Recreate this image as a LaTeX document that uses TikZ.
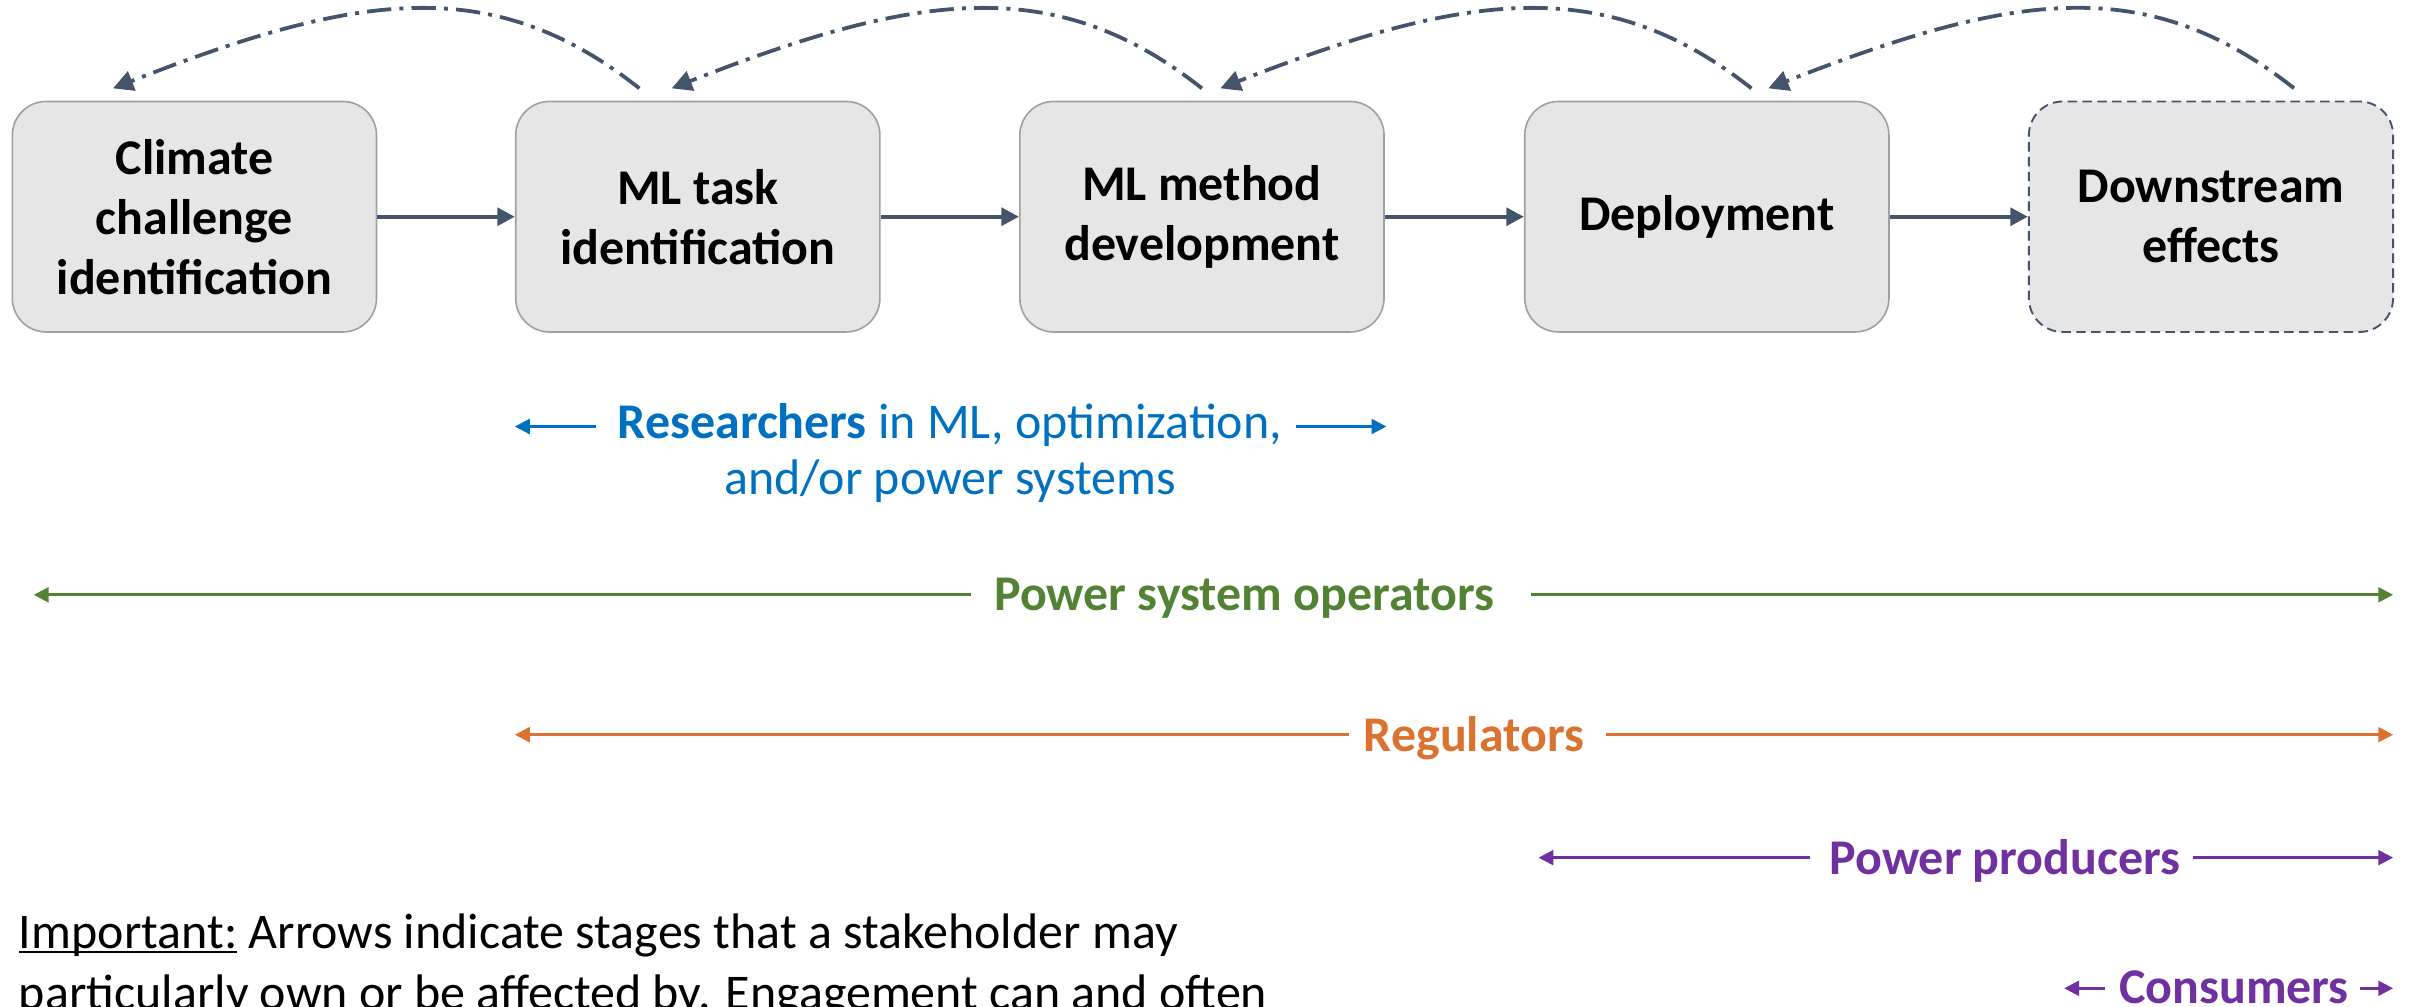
\documentclass[tikz,border=0pt]{standalone}
\usepackage{fontspec}
\setmainfont{Carlito}
\usetikzlibrary{arrows.meta,calc}
\definecolor{slate}{HTML}{44546A}
\definecolor{boxfill}{HTML}{E6E6E6}
\definecolor{boxline}{HTML}{A0A0A0}
\definecolor{rblue}{HTML}{0070C0}
\definecolor{rgreen}{HTML}{548235}
\definecolor{rorange}{HTML}{DC7230}
\definecolor{rpurple}{HTML}{7030A0}
\newsavebox\myulbox
\newcommand\myuline[1]{\sbox\myulbox{#1}\rlap{\usebox\myulbox}\rule[-1.6pt]{\wd\myulbox}{0.7pt}}
\begin{document}
\begin{tikzpicture}[x=0.02cm,y=-0.02cm,
  stage/.style={draw=boxline, line width=0.6pt, fill=boxfill, rounded corners=0.44cm,
    minimum width=4.74cm, minimum height=3cm, align=center, inner sep=0pt,
    font=\fontsize{18.5}{22.2}\selectfont\bfseries},
  flow/.style={draw=slate, line width=1.5pt, -{Triangle[length=6.5pt,width=6.5pt]}},
  back/.style={draw=slate, line width=1.4pt, dash pattern=on 9pt off 3pt on 1.5pt off 3pt,
    -{Triangle[length=7.5pt,width=7.5pt]}},
  lbl/.style={inner sep=0pt, anchor=base, font=\fontsize{18.5}{22}\selectfont},
  sarrow/.style={line width=1pt, -{Triangle[length=5.5pt,width=5.5pt]}}
]
\useasboundingbox (0,0) rectangle (1568,655);
\clip (0,0) rectangle (1568,655);

% stages
\node[stage] (s1) at (126.5,141) {Climate\\challenge\\identification};
\node[stage] (s2) at (454,141) {ML task\\identification};
\node[stage] (s3) at (782,141) {ML method\\development};
\node[stage] (s4) at (1110.5,141) {Deployment};
\node[stage, draw=slate, dash pattern=on 3.5pt off 2pt, line width=0.7pt] (s5) at (1438.5,141) {Downstream\\effects};

% forward flow
\draw[flow] (s1) -- (s2);
\draw[flow] (s2) -- (s3);
\draw[flow] (s3) -- (s4);
\draw[flow] (s4) -- (s5);

% feedback curves
\coordinate (b1s) at ($(s2.north)+(-38,-8)$);
\coordinate (b1e) at ($(s1.north)+(-53,-8)$);
\coordinate (b2s) at ($(s3.north)+(0,-8)$);
\coordinate (b2e) at ($(s2.north)+(-17,-8)$);
\coordinate (b3s) at ($(s4.north)+(29,-8)$);
\coordinate (b3e) at ($(s3.north)+(12,-8)$);
\coordinate (b4s) at ($(s5.north)+(54,-8)$);
\coordinate (b4e) at ($(s4.north)+(40,-8)$);
\foreach \a/\b in {b1s/b1e,b2s/b2e,b3s/b3e,b4s/b4e}
  \draw[back] (\a) .. controls +(-95,-75) and +(160,-63) .. (\b);

% researchers
\node[lbl, text=rblue] (res1) at (618,285) {\textbf{Researchers} in ML, optimization,};
\node[lbl, text=rblue] (res2) at (618,322) {and/or power systems};
\coordinate (resL) at (335,277.5);
\coordinate (resR) at (902,277.5);
\draw[sarrow, draw=rblue, fill=rblue] ($(res1.west |- resL)+(-14,0)$) -- (resL);
\draw[sarrow, draw=rblue, fill=rblue] ($(res1.east |- resR)+(9,0)$) -- (resR);

% power system operators
\node[lbl, text=rgreen, font=\fontsize{18.5}{22}\selectfont\bfseries] (pso) at (809.5,397.5) {Power system operators};
\coordinate (psoL) at (22,387);
\coordinate (psoR) at (1557,387);
\draw[sarrow, draw=rgreen, fill=rgreen] ($(pso.west |- psoL)+(-15,0)$) -- (psoL);
\draw[sarrow, draw=rgreen, fill=rgreen] ($(pso.east |- psoR)+(24,0)$) -- (psoR);

% regulators
\node[lbl, text=rorange, font=\fontsize{18.5}{22}\selectfont\bfseries] (reg) at (959,489) {Regulators};
\coordinate (regL) at (335,478);
\coordinate (regR) at (1557,478);
\draw[sarrow, draw=rorange, fill=rorange] ($(reg.west |- regL)+(-9,0)$) -- (regL);
\draw[sarrow, draw=rorange, fill=rorange] ($(reg.east |- regR)+(14,0)$) -- (regR);

% power producers
\node[lbl, text=rpurple, font=\fontsize{18.5}{22}\selectfont\bfseries] (pp) at (1304.5,569) {Power producers};
\coordinate (ppL) at (1001,558);
\coordinate (ppR) at (1557,558);
\draw[sarrow, draw=rpurple, fill=rpurple] ($(pp.west |- ppL)+(-12,0)$) -- (ppL);
\draw[sarrow, draw=rpurple, fill=rpurple] ($(pp.east |- ppR)+(8,0)$) -- (ppR);

% consumers
\node[lbl, text=rpurple, font=\fontsize{18.5}{22}\selectfont\bfseries] (con) at (1453.5,653) {Consumers};
\coordinate (conL) at (1343,643);
\coordinate (conR) at (1557,643);
\draw[sarrow, draw=rpurple, fill=rpurple] ($(con.west |- conL)+(-9,0)$) -- (conL);
\draw[sarrow, draw=rpurple, fill=rpurple] ($(con.east |- conR)+(7,0)$) -- (conR);

% note
\node[lbl, anchor=base west] (note1) at (12,617) {\myuline{Important:} Arrows indicate stages that a stakeholder may};
\node[lbl, anchor=base west] (note2) at (12,657) {particularly own or be affected by. Engagement can and often};
\end{tikzpicture}
\end{document}
